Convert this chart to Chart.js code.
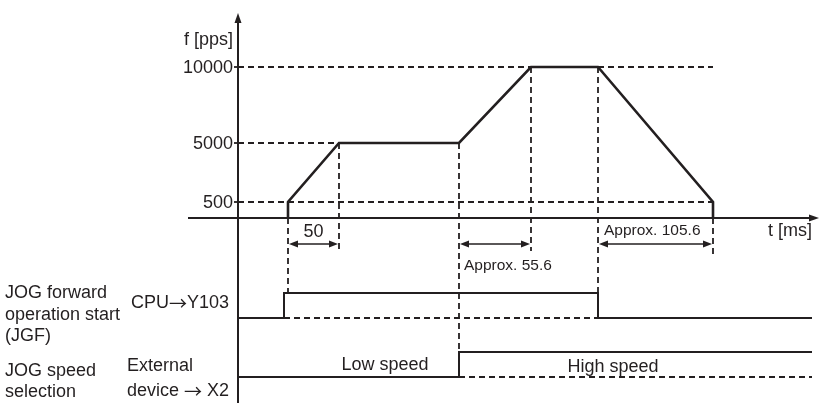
<!DOCTYPE html>
<html>
<head>
<meta charset="utf-8">
<title>JOG operation timing</title>
<script src="https://cdn.jsdelivr.net/npm/chart.js@4.4.1/dist/chart.umd.min.js"></script>
<style>
body { margin: 0; padding: 0; background: #fff; }
#wrap { width: 820px; height: 403px; }
</style>
</head>
<body>
<div id="wrap"><canvas id="timing"></canvas></div>
<script>
// speed profile: t [ms] / f [pps]
const timeMs  = [50, 50, 101, 221, 293, 360, 475, 475];
const freqPps = [0, 500, 5000, 5000, 10000, 10000, 500, 0];
const freqTicks = [500, 5000, 10000];

// JOG forward operation start (JGF), CPU -> Y103
const jgfTime  = [0, 46, 46, 360, 360, 574];
const jgfLevel = [0, 0, 1, 1, 0, 0];

// JOG speed selection, external device -> X2
const selTime  = [0, 221, 221, 574];
const selLevel = [0, 0, 1, 1];

// dimension arrows under the time axis
const spanFrom  = [50, 221, 360];
const spanTo    = [101, 293, 475];
const spanLabel = ['50', 'Approx. 55.6', 'Approx. 105.6'];

const ink = '#231f20';
const face = '"Liberation Sans", Arial, Helvetica, sans-serif';
const arrowFace = '"Noto Sans CJK JP", "DejaVu Sans", sans-serif';

function pts(xs, ys) {
    return xs.map((x, i) => ({ x: x, y: ys[i] }));
}

// frequency axis is not to scale in the drawing, so it is drawn piecewise
class BrokenScale extends Chart.LinearScale {
    warp(v) {
        const k = this.options.knots, w = this.options.warp;
        let i = 1;
        while (i < k.length - 1 && v > k[i]) i++;
        return w[i - 1] + (v - k[i - 1]) * (w[i] - w[i - 1]) / (k[i] - k[i - 1]);
    }
    getPixelForValue(v) {
        const s = this.options.span;
        return this.getPixelForDecimal((this.warp(v) - s[0]) / (s[1] - s[0]));
    }
}
BrokenScale.id = 'broken';
BrokenScale.defaults = Chart.LinearScale.defaults;
Chart.register(BrokenScale);

function line(ctx, x1, y1, x2, y2, w, dash) {
    ctx.save();
    ctx.strokeStyle = ink;
    ctx.lineWidth = w;
    ctx.setLineDash(dash || []);
    ctx.beginPath();
    ctx.moveTo(x1, y1);
    ctx.lineTo(x2, y2);
    ctx.stroke();
    ctx.restore();
}

function head(ctx, x, y, dx, dy, len, half) {
    // tip at (x, y), pointing along (dx, dy)
    ctx.save();
    ctx.fillStyle = ink;
    ctx.beginPath();
    ctx.moveTo(x, y);
    ctx.lineTo(x - dx * len - dy * half, y - dy * len - dx * half);
    ctx.lineTo(x - dx * len + dy * half, y - dy * len + dx * half);
    ctx.closePath();
    ctx.fill();
    ctx.restore();
}

function text(ctx, s, x, y, size, align) {
    ctx.save();
    ctx.fillStyle = ink;
    ctx.font = size + 'px ' + face;
    ctx.textAlign = align || 'left';
    ctx.textBaseline = 'middle';
    ctx.fillText(s, x, y);
    ctx.restore();
}

// text with a long arrow glyph in the middle, left aligned
function arrowText(ctx, a, b, x, y, size) {
    ctx.save();
    ctx.fillStyle = ink;
    ctx.textBaseline = 'middle';
    ctx.textAlign = 'left';
    ctx.font = size + 'px ' + face;
    ctx.fillText(a, x, y);
    x += ctx.measureText(a).width;
    ctx.font = size + 'px ' + arrowFace;
    ctx.fillText('\u2192', x, y);
    x += ctx.measureText('\u2192').width;
    ctx.font = size + 'px ' + face;
    ctx.fillText(b, x, y);
    ctx.restore();
}

const diagram = {
    id: 'diagram',
    beforeDatasetsDraw(chart) {
        const ctx = chart.ctx, area = chart.chartArea;
        const X = v => chart.scales.x.getPixelForValue(v);
        const F = v => chart.scales.y.getPixelForValue(v);
        const J = v => chart.scales.jgf.getPixelForValue(v);
        const S = v => chart.scales.sel.getPixelForValue(v);
        const dash = [6, 4];
        const x0 = X(0), y0 = F(0);

        // horizontal guides
        line(ctx, x0, F(10000), X(timeMs[6]), F(10000), 1.8, dash);
        line(ctx, x0, F(5000), X(timeMs[2]), F(5000), 1.8, dash);
        line(ctx, x0, F(500), X(timeMs[6]), F(500), 1.8, dash);

        // vertical guides
        line(ctx, X(timeMs[0]), y0, X(timeMs[0]), J(1), 1.8, dash);
        line(ctx, X(timeMs[2]), F(5000), X(timeMs[2]), y0 + 33, 1.8, dash);
        line(ctx, X(timeMs[3]), F(5000), X(timeMs[3]), S(1), 1.8, dash);
        line(ctx, X(timeMs[4]), F(10000), X(timeMs[4]), y0 + 33, 1.8, dash);
        line(ctx, X(timeMs[5]), F(10000), X(timeMs[5]), J(1), 1.8, dash);
        line(ctx, X(timeMs[7]), y0, X(timeMs[7]), y0 + 38, 1.8, dash);

        // signal "off" levels
        line(ctx, X(jgfTime[2]), J(0), X(jgfTime[3]), J(0), 1.8, dash);
        line(ctx, X(selTime[2]), S(0), X(selTime[3]), S(0), 1.8, dash);

        // axes
        line(ctx, x0, area.bottom, x0, area.top + 8, 2);
        head(ctx, x0, area.top, 0, -1, 10, 3.5);
        line(ctx, x0 - 50, y0, area.right + 1, y0, 2);
        head(ctx, area.right + 7, y0, 1, 0, 10, 3.5);

        // tick stubs
        freqTicks.forEach(f => line(ctx, x0 - 4, F(f), x0, F(f), 1.8));

        // dimension arrows
        spanFrom.forEach((a, i) => {
            const l = X(a) + 1, r = X(spanTo[i]) - 1, y = y0 + 26;
            line(ctx, l + 6, y, r - 6, y, 1.6);
            head(ctx, l, y, -1, 0, 9, 3.5);
            head(ctx, r, y, 1, 0, 9, 3.5);
        });
    },
    afterDraw(chart) {
        const ctx = chart.ctx, area = chart.chartArea;
        const X = v => chart.scales.x.getPixelForValue(v);
        const F = v => chart.scales.y.getPixelForValue(v);
        const J = v => chart.scales.jgf.getPixelForValue(v);
        const S = v => chart.scales.sel.getPixelForValue(v);
        const x0 = X(0), y0 = F(0);

        text(ctx, 'f [pps]', x0 - 5, 40, 18, 'right');
        freqTicks.forEach(f => text(ctx, String(f), x0 - 5, F(f) + 1, 18, 'right'));
        text(ctx, 't [ms]', area.right, y0 + 13, 18, 'right');

        text(ctx, spanLabel[0], (X(spanFrom[0]) + X(spanTo[0])) / 2, y0 + 14, 18, 'center');
        text(ctx, spanLabel[1], X(spanFrom[1]) + 5, y0 + 48, 15.5, 'left');
        text(ctx, spanLabel[2], X(spanFrom[2]) + 6, y0 + 13, 15.5, 'left');

        text(ctx, 'JOG forward', 5, J(1), 18);
        text(ctx, 'operation start', 5, J(1) + 22, 18);
        text(ctx, '(JGF)', 5, J(1) + 43, 18);
        arrowText(ctx, 'CPU', 'Y103', 131, J(1) + 10, 18);

        text(ctx, 'JOG speed', 5, S(0) - 6, 18);
        text(ctx, 'selection', 5, S(0) + 15, 18);
        text(ctx, 'External', 127, S(0) - 11, 18);
        arrowText(ctx, 'device ', ' X2', 127, S(0) + 14, 18);

        text(ctx, 'Low speed', X(selTime[1]) - 74, S(0) - 12, 18, 'center');
        text(ctx, 'High speed', X(selTime[1]) + 154, S(1) + 15, 18, 'center');
    }
};

const base = { pointRadius: 0, borderColor: ink, fill: false, tension: 0, borderJoinStyle: 'miter' };

new Chart(document.getElementById('timing'), {
    type: 'line',
    data: {
        datasets: [
            Object.assign({ data: pts(timeMs, freqPps), yAxisID: 'y', borderWidth: 2.6 }, base),
            Object.assign({ data: pts(jgfTime, jgfLevel), yAxisID: 'jgf', borderWidth: 2 }, base),
            Object.assign({ data: pts(selTime, selLevel), yAxisID: 'sel', borderWidth: 2 }, base)
        ]
    },
    options: {
        responsive: true,
        maintainAspectRatio: false,
        animation: false,
        events: [],
        layout: { padding: { left: 238, right: 8, top: 13, bottom: 0 } },
        plugins: { legend: { display: false }, tooltip: { enabled: false } },
        scales: {
            x: { type: 'linear', display: false, min: 0, max: 574 },
            y: {
                type: 'broken', display: false, min: 0, max: 10000,
                knots: [0, 500, 5000, 10000], warp: [0, 16, 75, 151], span: [-185, 205]
            },
            jgf: { type: 'linear', axis: 'y', position: 'left', display: false, min: -3.4, max: 12.2 },
            sel: { type: 'linear', axis: 'y', position: 'left', display: false, min: -1.04, max: 14.56 }
        }
    },
    plugins: [diagram]
});
</script>
</body>
</html>
